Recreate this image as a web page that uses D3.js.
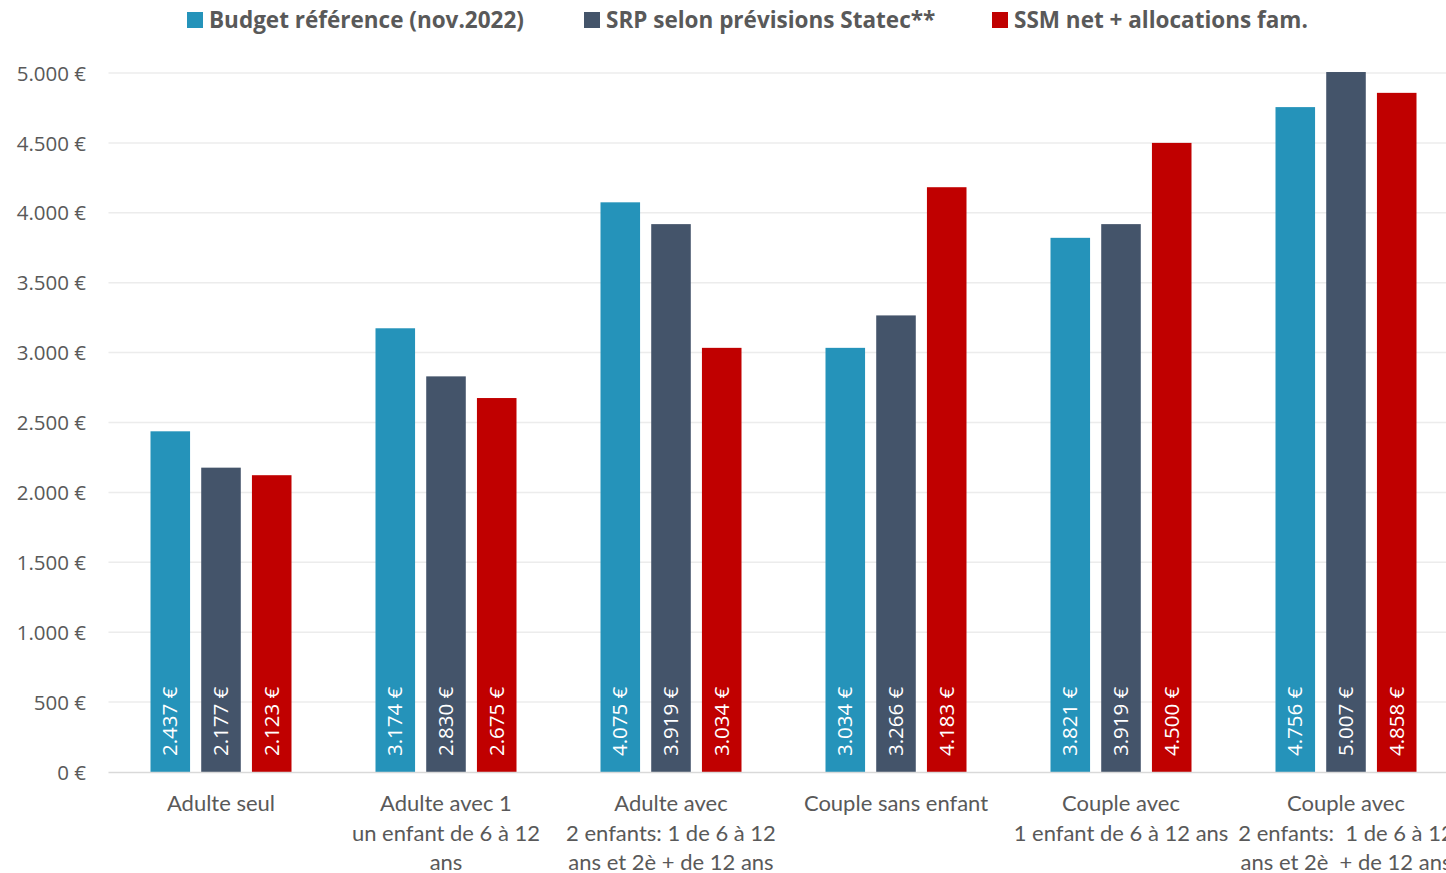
<!DOCTYPE html>
<html>
<head>
<meta charset="utf-8">
<script src="https://cdn.jsdelivr.net/npm/d3@7"></script>
<style>
  body { margin: 0; background: #fff; overflow: hidden; }
  svg { display: block; }
</style>
</head>
<body>
<svg id="chart" width="1446" height="873"></svg>
<script>
// chart data
const categories = [
    ['Adulte seul'],
    ['Adulte avec 1', 'un enfant de 6 à 12', 'ans'],
    ['Adulte avec', '2 enfants: 1 de 6 à 12', 'ans et 2è + de 12 ans'],
    ['Couple sans enfant'],
    ['Couple avec', '1 enfant de 6 à 12 ans'],
    ['Couple avec', '2 enfants:  1 de 6 à 12', 'ans et 2è  + de 12 ans']
];
const seriesNames = ['Budget référence (nov.2022)', 'SRP selon prévisions Statec**', 'SSM net + allocations fam.'];
const budgetRef = [2437, 3174, 4075, 3034, 3821, 4756];
const srpStatec = [2177, 2830, 3919, 3266, 3919, 5007];
const ssmNet = [2123, 2675, 3034, 4183, 4500, 4858];
const yTicks = [0, 500, 1000, 1500, 2000, 2500, 3000, 3500, 4000, 4500, 5000];

const colors = ['#2593ba', '#44546a', '#c00000'];
const seriesValues = [budgetRef, srpStatec, ssmNet];

const svg = d3.select('#chart');
const plotLeft = 108.5, plotTop = 73, plotBottom = 772, bandW = 225;
const plotRight = plotLeft + bandW * categories.length;

const fmt = v => d3.format(',')(v).replace(/,/g, '.') + ' €';

const x = d3.scaleBand()
    .domain(d3.range(categories.length))
    .range([plotLeft, plotRight]);

const x1 = d3.scaleBand()
    .domain(d3.range(seriesNames.length))
    .range([42, 183])
    .paddingInner(0.22);

const y = d3.scaleLinear().domain([0, 5000]).range([plotBottom, plotTop]);

// gridlines
svg.append('g')
    .selectAll('line')
    .data(yTicks.slice(1))
    .enter()
    .append('line')
    .attr('x1', plotLeft)
    .attr('x2', plotRight)
    .attr('y1', d => y(d))
    .attr('y2', d => y(d))
    .attr('stroke', '#ececec')
    .attr('stroke-width', 1.5);

// y axis labels
const yAxis = d3.axisLeft(y).tickValues(yTicks).tickFormat(fmt).tickSize(0).tickPadding(0);
const yg = svg.append('g')
    .attr('transform', `translate(${86}, 0)`)
    .call(yAxis);
yg.select('.domain').remove();
yg.selectAll('text')
    .attr('font-family', '"Open Sans", sans-serif')
    .attr('font-size', 20.5)
    .attr('fill', '#595959')
    .attr('dy', '0.35em');

// bars
const groups = svg.append('g')
    .selectAll('g')
    .data(categories.map((c, i) => i))
    .enter()
    .append('g')
    .attr('transform', i => `translate(${x(i)}, 0)`);

groups.selectAll('rect')
    .data(i => seriesValues.map((s, k) => ({k: k, v: s[i]})))
    .enter()
    .append('rect')
    .attr('x', d => x1(d.k))
    .attr('y', d => y(d.v))
    .attr('width', x1.bandwidth())
    .attr('height', d => plotBottom - y(d.v))
    .attr('fill', d => colors[d.k]);

groups.selectAll('text.val')
    .data(i => seriesValues.map((s, k) => ({k: k, v: s[i]})))
    .enter()
    .append('text')
    .attr('class', 'val')
    .attr('transform', d => `translate(${x1(d.k) + x1.bandwidth() / 2}, ${plotBottom - 16}) rotate(-90)`)
    .attr('dy', '0.35em')
    .attr('font-family', '"Open Sans", sans-serif')
    .attr('font-size', 20.5)
    .attr('fill', '#fff')
    .text(d => fmt(d.v));

// baseline
svg.append('line')
    .attr('x1', plotLeft)
    .attr('x2', plotRight)
    .attr('y1', plotBottom + 0.5)
    .attr('y2', plotBottom + 0.5)
    .attr('stroke', '#d9d9d9')
    .attr('stroke-width', 1.5);

// category labels
const catText = svg.append('g')
    .selectAll('text')
    .data(categories)
    .enter()
    .append('text')
    .attr('x', (d, i) => x(i) + bandW / 2)
    .attr('y', 811)
    .attr('text-anchor', 'middle')
    .attr('font-family', 'Lato, sans-serif')
    .attr('font-size', 22)
    .attr('fill', '#595959');

catText.selectAll('tspan')
    .data(d => d)
    .enter()
    .append('tspan')
    .attr('x', function () { return d3.select(this.parentNode).attr('x'); })
    .attr('dy', (d, i) => i === 0 ? 0 : 29.5)
    .style('white-space', 'pre')
    .text(d => d);

// legend
const legendX = [187, 584, 992];
const legend = svg.append('g')
    .selectAll('g')
    .data(seriesNames)
    .enter()
    .append('g')
    .attr('transform', (d, i) => `translate(${legendX[i]}, 12)`);

legend.append('rect')
    .attr('width', 16)
    .attr('height', 16)
    .attr('fill', (d, i) => colors[i]);

legend.append('text')
    .attr('x', 22)
    .attr('y', 8)
    .attr('dy', '0.35em')
    .attr('font-family', '"Open Sans", sans-serif')
    .attr('font-weight', 'bold')
    .attr('font-size', 22.5)
    .attr('fill', '#595959')
    .text(d => d);
</script>
</body>
</html>
